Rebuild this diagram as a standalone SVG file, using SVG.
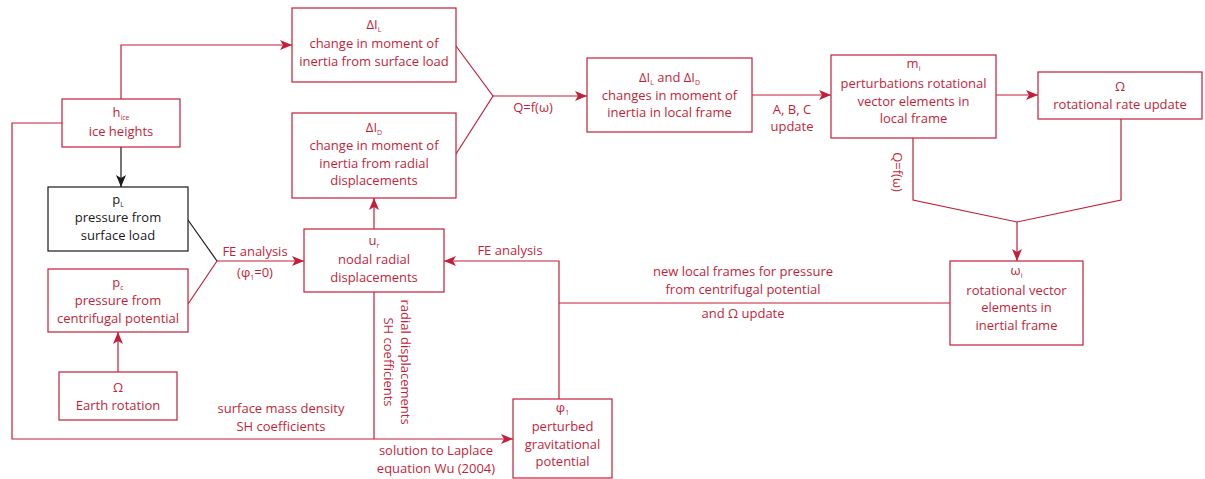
<svg xmlns="http://www.w3.org/2000/svg" width="1205" height="479" viewBox="0 0 1205 479">
  <style>
    text { font-family: "Open Sans", "Liberation Sans", sans-serif; font-size: 13px; fill: #c41f3a; text-anchor: middle; }
    text.k { fill: #1a1a1a; }
    .box { fill: #ffffff; stroke: #c41f3a; stroke-width: 1.2; }
    .kbox { fill: #ffffff; stroke: #1a1a1a; stroke-width: 1.2; }
    .ln { fill: none; stroke: #c41f3a; stroke-width: 1.2; }
    .kln { fill: none; stroke: #1a1a1a; stroke-width: 1.2; }
    .sub { font-size: 7px; }
  </style>
  <defs>
    <marker id="ar" viewBox="0 0 12 10" refX="12" refY="5" markerWidth="12" markerHeight="10" orient="auto" markerUnits="userSpaceOnUse">
      <path d="M0,0 L12,5 L0,10 L3,5 z" fill="#c41f3a"/>
    </marker>
    <marker id="ak" viewBox="0 0 12 10" refX="12" refY="5" markerWidth="12" markerHeight="10" orient="auto" markerUnits="userSpaceOnUse">
      <path d="M0,0 L12,5 L0,10 L3,5 z" fill="#1a1a1a"/>
    </marker>
  </defs>

  <!-- connectors -->
  <g id="connectors">
    <!-- ice heights up to surface-load inertia change -->
    <path class="ln" d="M121,99 V45 H292" marker-end="url(#ar)"/>
    <!-- ice heights down to surface-load pressure -->
    <path class="kln" d="M121,147 V187" marker-end="url(#ak)"/>
    <!-- ice heights left loop to perturbed potential -->
    <path class="ln" d="M62,123 H12 V439 H513" marker-end="url(#ar)"/>
    <!-- Earth rotation to centrifugal pressure -->
    <path class="ln" d="M118,372 V332" marker-end="url(#ar)"/>
    <!-- pressures merge into FE analysis -->
    <path class="kln" d="M188,220 L217,261"/>
    <path class="ln" d="M188,304 L217,261"/>
    <path class="ln" d="M217,261 H304" marker-end="url(#ar)"/>
    <!-- displacements up to inertia change -->
    <path class="ln" d="M374,229 V198" marker-end="url(#ar)"/>
    <!-- displacements down to Laplace line -->
    <path class="ln" d="M374,292 V439"/>
    <!-- inertia changes merge -->
    <path class="ln" d="M456,46 L493,96 L456,154"/>
    <path class="ln" d="M493,96 H587" marker-end="url(#ar)"/>
    <!-- local frame to perturbations -->
    <path class="ln" d="M752,95 H831" marker-end="url(#ar)"/>
    <!-- perturbations to rotational rate -->
    <path class="ln" d="M996,95 H1038" marker-end="url(#ar)"/>
    <!-- perturbations and rate merge into inertial frame -->
    <path class="ln" d="M913,138 V200 L1017,222 L1121,200 V119"/>
    <path class="ln" d="M1017,222 V261" marker-end="url(#ar)"/>
    <!-- inertial frame back to potential and displacements -->
    <path class="ln" d="M950,303 H559"/>
    <path class="ln" d="M559,399 V261 H444" marker-end="url(#ar)"/>
  </g>

  <!-- connector labels -->
  <g id="labels">
    <text x="533" y="112">Q=f(ω)</text>
    <text x="792" y="114">A, B, C</text>
    <text x="792" y="131">update</text>
    <text transform="translate(893,172) rotate(90)">Q=f(ω)</text>
    <text x="255" y="256">FE analysis</text>
    <text x="255" y="277">(φ<tspan class="sub" dy="3">1</tspan><tspan dy="-3">=0)</tspan></text>
    <text x="510" y="255">FE analysis</text>
    <text x="743" y="276">new local frames for pressure</text>
    <text x="743" y="294">from centrifugal potential</text>
    <text x="743" y="318">and Ω update</text>
    <text transform="translate(401,362) rotate(90)">radial displacements</text>
    <text transform="translate(384,362) rotate(90)">SH coefficients</text>
    <text x="281" y="413">surface mass density</text>
    <text x="281" y="431">SH coefficients</text>
    <text x="436" y="455">solution to Laplace</text>
    <text x="436" y="473">equation Wu (2004)</text>
  </g>

  <g id="n-hice">
    <rect class="box" x="62" y="99" width="118" height="48"/>
    <text x="121" y="117">h<tspan class="sub" dy="3">ice</tspan></text>
    <text x="121" y="136">ice heights</text>
  </g>

  <g id="n-pL">
    <rect class="kbox" x="48" y="187" width="140" height="64"/>
    <text class="k" x="118" y="204">p<tspan class="sub" dy="3">L</tspan></text>
    <text class="k" x="118" y="222">pressure from</text>
    <text class="k" x="118" y="240">surface load</text>
  </g>

  <g id="n-pc">
    <rect class="box" x="48" y="269" width="140" height="63"/>
    <text x="118" y="287">p<tspan class="sub" dy="3">c</tspan></text>
    <text x="118" y="305">pressure from</text>
    <text x="118" y="323">centrifugal potential</text>
  </g>

  <g id="n-earth">
    <rect class="box" x="59" y="372" width="118" height="48"/>
    <text x="118" y="392">Ω</text>
    <text x="118" y="410">Earth rotation</text>
  </g>

  <g id="n-dIL">
    <rect class="box" x="292" y="8" width="164" height="74"/>
    <text x="374" y="29">ΔI<tspan class="sub" dy="3">L</tspan></text>
    <text x="374" y="48">change in moment of</text>
    <text x="374" y="66">inertia from surface load</text>
  </g>

  <g id="n-dID">
    <rect class="box" x="292" y="113" width="164" height="85"/>
    <text x="374" y="132">ΔI<tspan class="sub" dy="3">D</tspan></text>
    <text x="374" y="150">change in moment of</text>
    <text x="374" y="168">inertia from radial</text>
    <text x="374" y="185">displacements</text>
  </g>

  <g id="n-local">
    <rect class="box" x="587" y="58" width="165" height="74"/>
    <text x="669.5" y="82">ΔI<tspan class="sub" dy="3">L</tspan><tspan dy="-3"> and ΔI</tspan><tspan class="sub" dy="3">D</tspan></text>
    <text x="669.5" y="100">changes in moment of</text>
    <text x="669.5" y="117">inertia in local frame</text>
  </g>

  <g id="n-mi">
    <rect class="box" x="831" y="55" width="165" height="83"/>
    <text x="913.5" y="68">m<tspan class="sub" dy="3">i</tspan></text>
    <text x="913.5" y="88">perturbations rotational</text>
    <text x="913.5" y="106">vector elements in</text>
    <text x="913.5" y="123">local frame</text>
  </g>

  <g id="n-rate">
    <rect class="box" x="1038" y="72" width="164" height="47"/>
    <text x="1120" y="91">Ω</text>
    <text x="1120" y="109">rotational rate update</text>
  </g>

  <g id="n-omega">
    <rect class="box" x="950" y="261" width="133" height="84"/>
    <text x="1016.5" y="275">ω<tspan class="sub" dy="3">i</tspan></text>
    <text x="1016.5" y="295">rotational vector</text>
    <text x="1016.5" y="312">elements in</text>
    <text x="1016.5" y="330">inertial frame</text>
  </g>

  <g id="n-ur">
    <rect class="box" x="304" y="229" width="140" height="63"/>
    <text x="374" y="245">u<tspan class="sub" dy="3">r</tspan></text>
    <text x="374" y="264">nodal radial</text>
    <text x="374" y="282">displacements</text>
  </g>

  <g id="n-phi">
    <rect class="box" x="513" y="399" width="99" height="79"/>
    <text x="562.5" y="412">φ<tspan class="sub" dy="3">1</tspan></text>
    <text x="562.5" y="431">perturbed</text>
    <text x="562.5" y="449">gravitational</text>
    <text x="562.5" y="466">potential</text>
  </g>
</svg>
